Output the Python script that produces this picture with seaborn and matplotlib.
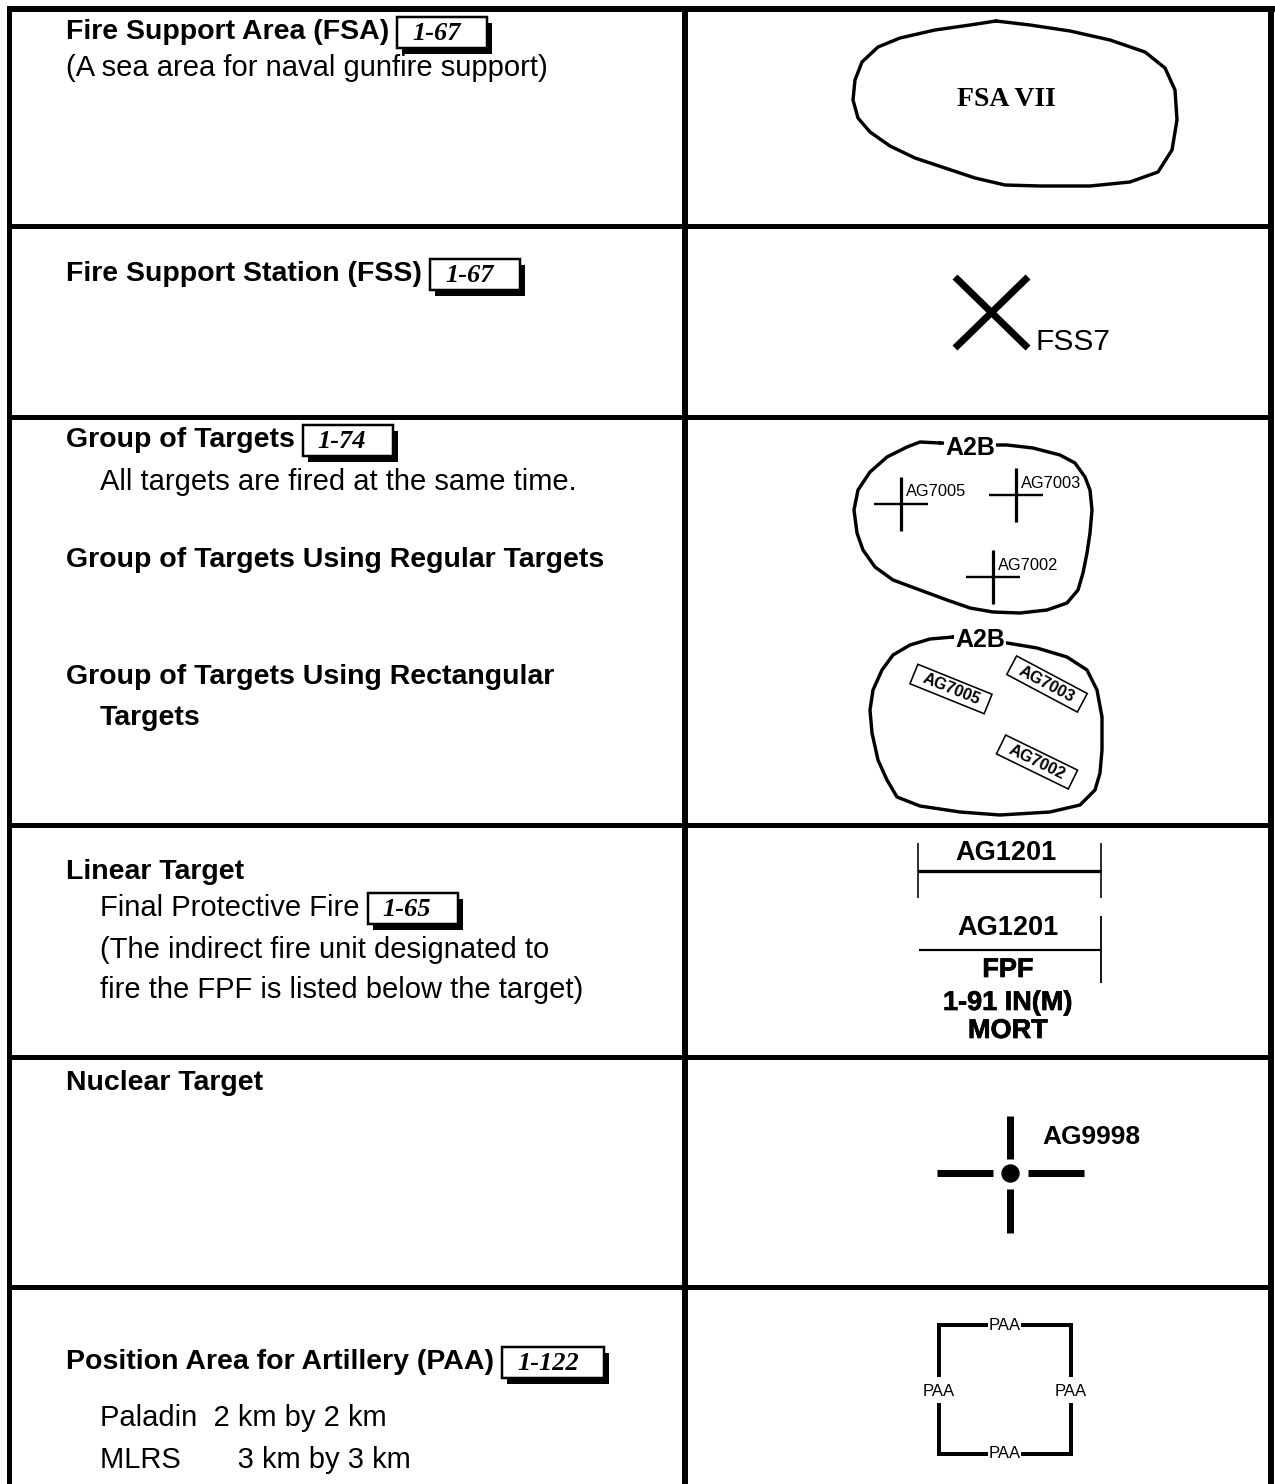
import matplotlib
matplotlib.use("Agg")
import matplotlib.pyplot as plt
import matplotlib.transforms as mtransforms
import matplotlib.patheffects as pe
from matplotlib.patches import Rectangle
import seaborn as sns

# ---- data ----
ref_labels = ["1-67", "1-67", "1-74", "1-65", "1-122"]

fsa_blob_x = [996, 1030, 1070, 1110, 1145, 1165, 1175, 1177, 1172, 1158, 1130, 1090, 1040,
              1005, 975, 945, 915, 890, 870, 858, 853, 855, 862, 878, 900, 935, 970]
fsa_blob_y = [21, 25, 31, 40, 52, 68, 90, 120, 150, 172, 182, 186, 186,
              185, 178, 168, 158, 146, 132, 118, 100, 80, 62, 47, 38, 30, 25]

grp_blob_x = [940, 920, 907, 887, 870, 858, 854, 857, 863, 875, 893, 920, 947, 970, 993, 1020,
              1047, 1067, 1078, 1083, 1087, 1090, 1092, 1090, 1085, 1075, 1060, 1033, 1007, 995]
grp_blob_y = [443, 442, 447, 457, 472, 490, 510, 533, 550, 567, 580, 590, 600, 608, 612, 613,
              610, 603, 590, 573, 553, 533, 510, 490, 477, 463, 455, 448, 445, 445]

rect_blob_x = [953, 930, 910, 893, 882, 873, 870, 872, 878, 887, 897, 920, 960, 1000, 1050,
               1080, 1095, 1100, 1102, 1102, 1097, 1087, 1067, 1037, 1007]
rect_blob_y = [637, 639, 645, 655, 670, 690, 710, 733, 760, 780, 797, 806, 812, 815, 812,
               805, 790, 773, 750, 717, 690, 670, 657, 648, 643]

target_names = ["AG7005", "AG7003", "AG7002"]
cross_x = [901, 1016, 993]
cross_y = [504, 495, 577]
rect_x = [951, 1047, 1037]
rect_y = [689, 684, 762]
rect_angle = [22, 28, 26]

fpf_lines = ["FPF", "1-91 IN(M)", "MORT"]
paa_label = "PAA"

sns.set_theme(style="white")
plt.rcParams['font.family'] = ['Liberation Sans', 'DejaVu Sans']
plt.rcParams['text.color'] = 'black'

fig = plt.figure(figsize=(12.75, 14.84), dpi=100)
ax = fig.add_axes([0, 0, 1, 1])
ax.set_xlim(0, 1275)
ax.set_ylim(1484, 0)
ax.axis("off")

PX = 0.72  # pixels -> points


def hline(y, x0, x1, w):
    ax.plot([x0, x1], [y, y], color="black", lw=w * PX, solid_capstyle="butt")


def vline(x, y0, y1, w):
    ax.plot([x, x], [y0, y1], color="black", lw=w * PX, solid_capstyle="butt")


def blob(xs, ys):
    sns.lineplot(x=xs + [xs[0]], y=ys + [ys[0]], sort=False, estimator=None,
                 color="black", lw=3.4 * PX, ax=ax)


renderer = fig.canvas.get_renderer()


def right_edge(t):
    bb = t.get_window_extent(renderer)
    return ax.transData.inverted().transform((bb.x1, bb.y0))[0]


def ref_box(t, label, w=90):
    x = right_edge(t) + 8
    yc = t.get_position()[1]
    h = 31
    ax.add_patch(Rectangle((x + 5, yc - h / 2 + 6), w, h, fc="black", ec="black", lw=0))
    ax.add_patch(Rectangle((x, yc - h / 2), w, h, fc="white", ec="black", lw=2.5 * PX))
    ax.text(x + 15, yc + 1, label, family="Liberation Serif", style="italic",
            weight="bold", fontsize=19, va="center", ha="left", color="black")


# ---- grid ----
hline(9, 7, 1275, 6)
vline(9, 6, 1484, 5)
vline(685, 9, 1484, 6)
vline(1271, 6, 1484, 6)
for yy in [226, 417, 825, 1057, 1287]:
    hline(yy, 9, 1271, 5)


def ltxt(x, y, s, bold=False):
    return ax.text(x, y, s, fontsize=20.5 if bold else 21, weight="bold" if bold else "normal",
                   va="center", ha="left", color="black")


# ---- left column ----
t = ltxt(66, 32, "Fire Support Area (FSA)", True)
ref_box(t, ref_labels[0])
ltxt(66, 68, "(A sea area for naval gunfire support)")

t = ltxt(66, 274, "Fire Support Station (FSS)", True)
ref_box(t, ref_labels[1])

t = ltxt(66, 440, "Group of Targets", True)
ref_box(t, ref_labels[2])
ltxt(100, 482, "All targets are fired at the same time.")
ltxt(66, 560, "Group of Targets Using Regular Targets", True)
ltxt(66, 677, "Group of Targets Using Rectangular", True)
ltxt(100, 718, "Targets", True)

ltxt(66, 872, "Linear Target", True)
t = ltxt(100, 908, "Final Protective Fire")
ref_box(t, ref_labels[3])
ltxt(100, 950, "(The indirect fire unit designated to")
ltxt(100, 990, "fire the FPF is listed below the target)")

ltxt(66, 1083, "Nuclear Target", True)

t = ltxt(66, 1362, "Position Area for Artillery (PAA)", True)
ref_box(t, ref_labels[4], w=102)
ltxt(100, 1418, "Paladin  2 km by 2 km")
ltxt(100, 1460, "MLRS       3 km by 3 km")

# ---- FSA ----
blob(fsa_blob_x, fsa_blob_y)
ax.text(1006, 100, "FSA VII", family="Liberation Serif", weight="bold", fontsize=20,
        ha="center", va="center", color="black")

# ---- FSS ----
ax.plot([955, 1028], [277, 348], color="black", lw=7 * PX, solid_capstyle="butt")
ax.plot([1028, 955], [277, 348], color="black", lw=7 * PX, solid_capstyle="butt")
ax.text(1035, 350, "FSS7", fontsize=21.5, ha="left", va="baseline", color="black")

# ---- group of regular targets ----
blob(grp_blob_x, grp_blob_y)
ax.text(970, 448, "A2B", fontsize=18, weight="bold", ha="center", va="center", color="black",
        bbox=dict(boxstyle="square,pad=0.05", fc="white", ec="none"))
for name, cx, cy in zip(target_names, cross_x, cross_y):
    vline(cx, cy - 27, cy + 27, 3.2)
    hline(cy, cx - 27, cx + 27, 2.4)
    ax.text(cx + 5, cy - 12, name, fontsize=11.8, ha="left", va="center", color="black")

# ---- group of rectangular targets ----
blob(rect_blob_x, rect_blob_y)
ax.text(980, 640, "A2B", fontsize=18, weight="bold", ha="center", va="center", color="black",
        bbox=dict(boxstyle="square,pad=0.05", fc="white", ec="none"))
for name, cx, cy, ang in zip(target_names, rect_x, rect_y, rect_angle):
    tr = mtransforms.Affine2D().rotate_deg_around(cx, cy, ang) + ax.transData
    ax.add_patch(Rectangle((cx - 40, cy - 10.5), 80, 21, fc="white", ec="black",
                           lw=1.6 * PX, transform=tr))
    ax.text(cx, cy, name, fontsize=11.8, weight="bold", ha="center", va="center",
            rotation=-ang, rotation_mode="anchor", color="black")

# ---- linear target ----
vline(918, 843, 898, 1.6)
vline(1101, 843, 898, 1.6)
hline(871, 918, 1101, 3.3)
ax.text(1006, 853, "AG1201", fontsize=19.5, weight="bold", ha="center", va="center",
        color="black")
vline(1101, 916, 983, 1.8)
hline(950, 919, 1101, 2.2)
ax.text(1008, 928, "AG1201", fontsize=19.5, weight="bold", ha="center", va="center",
        color="black")
heavy = [pe.withStroke(linewidth=0.5, foreground="black")]
for s, yy in zip(fpf_lines, [970, 1003, 1031]):
    ax.text(1008, yy, s, fontsize=19.5, weight="bold", ha="center", va="center",
            color="black", path_effects=heavy)

# ---- nuclear target ----
hline(1173, 937, 993, 7)
hline(1173, 1028, 1084, 7)
vline(1010, 1116, 1159, 7)
vline(1010, 1189, 1233, 7)
ax.plot([1010], [1173], marker="o", ms=17 * PX, color="black")
ax.text(1042, 1137, "AG9998", fontsize=19, weight="bold", ha="left", va="center",
        color="black")

# ---- PAA ----
hline(1325, 939, 988, 4)
hline(1325, 1021, 1071, 4)
hline(1454, 939, 988, 4)
hline(1454, 1021, 1071, 4)
vline(939, 1323, 1377, 4)
vline(939, 1403, 1456, 4)
vline(1071, 1323, 1377, 4)
vline(1071, 1403, 1456, 4)
for px_, py_ in [(1005, 1325), (1005, 1454), (939, 1391), (1071, 1391)]:
    ax.text(px_, py_, paa_label, fontsize=12, ha="center", va="center", color="black")

ax.set_xlim(0, 1275)
ax.set_ylim(1484, 0)
ax.axis("off")
fig.savefig("out.png", dpi=100, facecolor="white")
